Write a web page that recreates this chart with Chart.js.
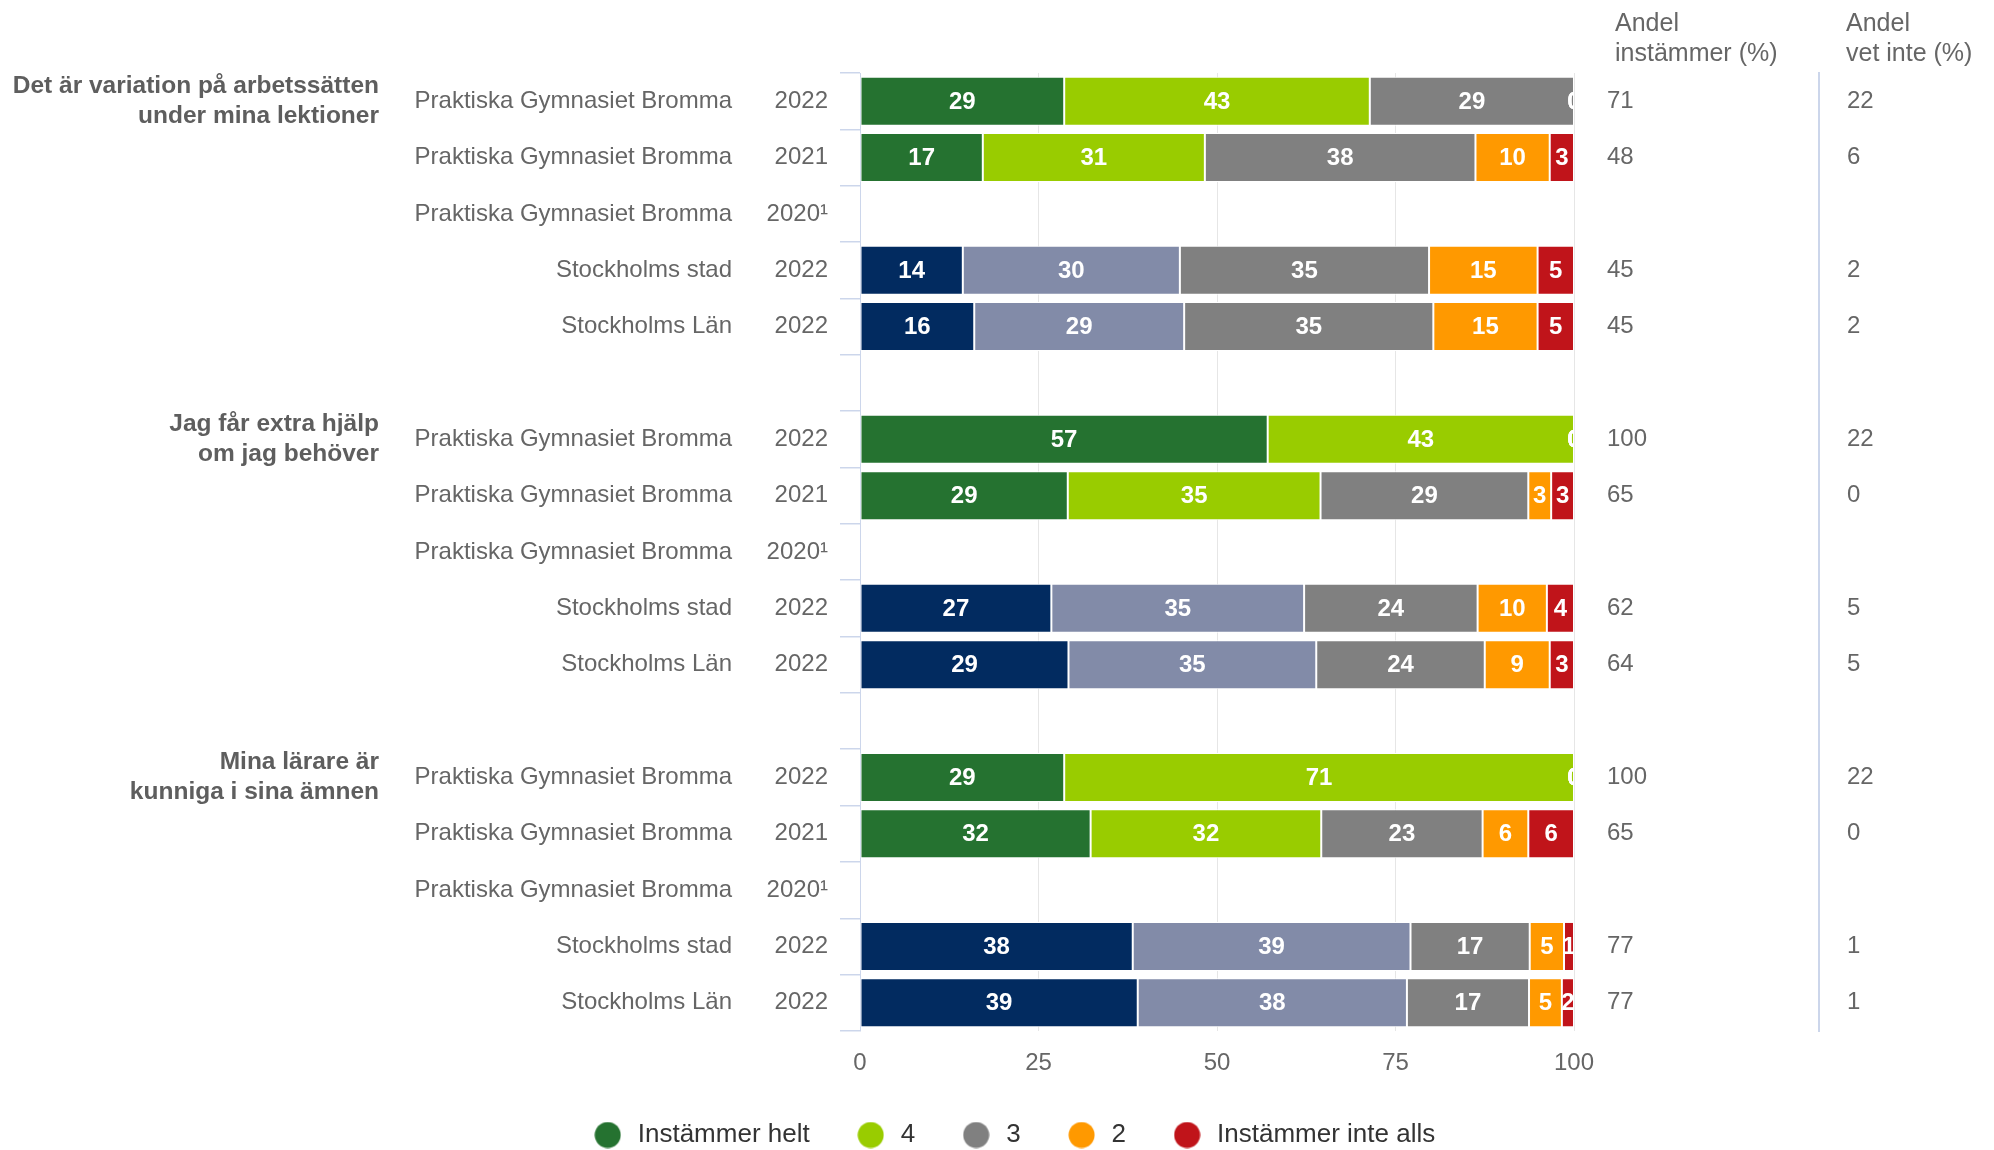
<!DOCTYPE html>
<html>
<head>
<meta charset="utf-8">
<script src="https://cdn.jsdelivr.net/npm/chart.js@4.4.1/dist/chart.umd.min.js"></script>
<style>
  html, body { margin: 0; padding: 0; background: #ffffff; }
  #wrap { width: 1994px; height: 1150px; }
</style>
</head>
<body>
<div id="wrap"><canvas id="c" width="1994" height="1150"></canvas></div>
<script>
// ---------- data ----------
const groupTitles = [
  ['Det är variation på arbetssätten', 'under mina lektioner'], '', '', '', '', '',
  ['Jag får extra hjälp', 'om jag behöver'], '', '', '', '', '',
  ['Mina lärare är', 'kunniga i sina ämnen'], '', '', '', ''
];
const schools = [
  'Praktiska Gymnasiet Bromma', 'Praktiska Gymnasiet Bromma', 'Praktiska Gymnasiet Bromma', 'Stockholms stad', 'Stockholms Län', '',
  'Praktiska Gymnasiet Bromma', 'Praktiska Gymnasiet Bromma', 'Praktiska Gymnasiet Bromma', 'Stockholms stad', 'Stockholms Län', '',
  'Praktiska Gymnasiet Bromma', 'Praktiska Gymnasiet Bromma', 'Praktiska Gymnasiet Bromma', 'Stockholms stad', 'Stockholms Län'
];
const years = [
  '2022', '2021', '2020\u00B9', '2022', '2022', '',
  '2022', '2021', '2020\u00B9', '2022', '2022', '',
  '2022', '2021', '2020\u00B9', '2022', '2022'
];
// row kind: 's' = school, 'r' = region (Stockholm), '' = empty
const rowKind = ['s','s','s','r','r','', 's','s','s','r','r','', 's','s','s','r','r'];

const seriesNames = ['Instämmer helt', '4', '3', '2', 'Instämmer inte alls'];
const instammerHelt = [28.6, 17.2, null, 14.4, 16.0, null, 57.1, 29.1, null, 26.8, 29.2, null, 28.6, 32.3, null, 38.2, 38.9];
const fyra          = [42.8, 31.1, null, 30.4, 29.4, null, 42.9, 35.4, null, 35.4, 34.7, null, 71.4, 32.3, null, 38.9, 37.7];
const tre           = [28.6, 37.9, null, 34.9, 34.9, null, 0,    29.1, null, 24.3, 23.6, null, 0,    22.6, null, 16.7, 17.1];
const tva           = [0,    10.4, null, 15.2, 14.6, null, 0,    3.2,  null, 9.7,  9.1,  null, 0,    6.4,  null, 4.8,  4.6];
const inteAlls      = [0,    3.4,  null, 5.1,  5.1,  null, 0,    3.2,  null, 3.8,  3.4,  null, 0,    6.4,  null, 1.4,  1.7];

const andelInstammer = ['71', '48', '', '45', '45', '', '100', '65', '', '62', '64', '', '100', '65', '', '77', '77'];
const andelVetInte   = ['22', '6', '', '2', '2', '', '22', '0', '', '5', '5', '', '22', '0', '', '1', '1'];
const headerInstammer = ['Andel', 'instämmer (%)'];
const headerVetInte   = ['Andel', 'vet inte (%)'];

// ---------- styles ----------
const COLORS = {
  green: '#257230', lime: '#99cc00', gray: '#808080', orange: '#ff9900', red: '#c0141a',
  navy: '#022b60', slate: '#828ba8'
};
const FONT = "'Liberation Sans', Arial, Helvetica, sans-serif";
Chart.defaults.font.family = FONT;
Chart.defaults.font.size = 24;
Chart.defaults.color = '#666666';

function perRow(schoolColor, regionColor) {
  return rowKind.map(k => (k === 'r' ? regionColor : schoolColor));
}
const seriesData = [instammerHelt, fyra, tre, tva, inteAlls];
const seriesColors = [
  perRow(COLORS.green, COLORS.navy),
  perRow(COLORS.lime, COLORS.slate),
  COLORS.gray, COLORS.orange, COLORS.red
];
const legendColors = [COLORS.green, COLORS.lime, COLORS.gray, COLORS.orange, COLORS.red];

function dot(color) {
  const c = document.createElement('canvas');
  c.width = 27; c.height = 27;
  const g = c.getContext('2d');
  g.fillStyle = color;
  g.beginPath();
  g.arc(13.5, 13.5, 13, 0, Math.PI * 2);
  g.fill();
  return c;
}

// ---------- plugins ----------
const barLabels = {
  id: 'barLabels',
  afterDatasetsDraw(chart) {
    const ctx = chart.ctx, a = chart.chartArea;
    ctx.save();
    ctx.beginPath();
    ctx.rect(a.left, a.top, a.right - a.left, a.bottom - a.top);
    ctx.clip();
    ctx.font = 'bold 24px ' + FONT;
    ctx.fillStyle = '#ffffff';
    ctx.textAlign = 'center';
    ctx.textBaseline = 'middle';
    chart.data.datasets.forEach((ds, i) => {
      const meta = chart.getDatasetMeta(i);
      meta.data.forEach((bar, j) => {
        const v = ds.data[j];
        if (v === null || v === undefined) return;
        const p = bar.getProps(['x', 'y', 'base'], true);
        ctx.fillText(String(Math.round(v)), (p.x + p.base) / 2, p.y + 1);
      });
    });
    ctx.restore();
  }
};

const headers = {
  id: 'headers',
  afterDraw(chart) {
    const ctx = chart.ctx;
    ctx.save();
    ctx.font = '25px ' + FONT;
    ctx.fillStyle = '#666666';
    ctx.textAlign = 'left';
    ctx.textBaseline = 'alphabetic';
    const a = chart.scales.yIn.left + 41;
    const b = chart.scales.yVet.left + 27;
    ctx.fillText(headerInstammer[0], a, 31);
    ctx.fillText(headerInstammer[1], a, 61);
    ctx.fillText(headerVetInte[0], b, 31);
    ctx.fillText(headerVetInte[1], b, 61);
    ctx.restore();
  }
};

const legendShift = {
  id: 'legendShift',
  afterLayout(chart) {
    const l = chart.legend;
    if (l) { l.left += 16; l.right += 16; }
  }
};

// ---------- chart ----------
new Chart(document.getElementById('c'), {
  type: 'bar',
  data: {
    labels: years,
    datasets: seriesNames.map((name, i) => ({
      label: name,
      data: seriesData[i],
      backgroundColor: seriesColors[i],
      borderColor: '#ffffff',
      borderWidth: 1,
      borderSkipped: false,
      barPercentage: 0.87,
      categoryPercentage: 1,
      stack: 's',
      xAxisID: 'x',
      yAxisID: 'y'
    }))
  },
  options: {
    indexAxis: 'y',
    responsive: false,
    animation: false,
    events: [],
    devicePixelRatio: 1,
    layout: { padding: { top: 73, bottom: -8, left: 0, right: 0 } },
    scales: {
      x: {
        type: 'linear', position: 'bottom', stacked: true, min: 0, max: 100,
        ticks: { stepSize: 25, color: '#666666', font: { size: 24 }, padding: 18 },
        grid: { color: '#e6e6e6', lineWidth: 1, drawTicks: false },
        border: { display: false },
        afterFit(s) { s.height = 47; }
      },
      y: {
        type: 'category', axis: 'y', position: 'left', weight: 0, stacked: true, offset: true,
        labels: years,
        ticks: { autoSkip: false, color: '#666666', font: { size: 24 }, padding: 12 },
        grid: { display: true, offset: true, drawOnChartArea: false, drawTicks: true, tickLength: 20, color: '#ccd6eb', lineWidth: 1.5 },
        border: { display: true, color: '#ccd6eb', width: 1 },
        afterFit(s) { s.width = 110; }
      },
      yName: {
        type: 'category', axis: 'y', position: 'left', weight: 1, offset: true,
        labels: schools,
        ticks: { autoSkip: false, color: '#666666', font: { size: 24 }, padding: 18 },
        grid: { display: false, drawTicks: false, offset: true },
        border: { display: false },
        afterFit(s) { s.width = 350; }
      },
      yGroup: {
        type: 'category', axis: 'y', position: 'left', weight: 2, offset: true,
        labels: groupTitles,
        ticks: { autoSkip: false, color: '#5e5e5e', font: { size: 24.5, weight: 'bold', lineHeight: 1.22 }, padding: 21 },
        grid: { display: false, drawTicks: false, offset: true },
        border: { display: false },
        afterFit(s) { s.width = 400; }
      },
      yIn: {
        type: 'category', axis: 'y', position: 'right', weight: 0, offset: true,
        labels: andelInstammer,
        ticks: { autoSkip: false, color: '#666666', font: { size: 24 }, padding: 33 },
        grid: { display: false, drawTicks: false, offset: true },
        border: { display: false },
        afterFit(s) { s.width = 245; }
      },
      yVet: {
        type: 'category', axis: 'y', position: 'right', weight: 1, offset: true,
        labels: andelVetInte,
        ticks: { autoSkip: false, color: '#666666', font: { size: 24 }, padding: 28 },
        grid: { display: true, offset: true, drawOnChartArea: false, drawTicks: false, color: 'rgba(0,0,0,0)' },
        border: { display: true, color: '#ccd6eb', width: 2 },
        afterFit(s) { s.width = 175; }
      }
    },
    plugins: {
      tooltip: { enabled: false },
      title: { display: false },
      legend: {
        display: true,
        position: 'bottom',
        align: 'center',
        labels: {
          usePointStyle: true,
          pointStyleWidth: 34,
          padding: 44,
          color: '#333333',
          font: { size: 26 },
          generateLabels() {
            return seriesNames.map((n, i) => ({
              text: n,
              fillStyle: legendColors[i],
              strokeStyle: legendColors[i],
              lineWidth: 0,
              pointStyle: dot(legendColors[i]),
              fontColor: '#333333',
              hidden: false,
              datasetIndex: i
            }));
          }
        }
      }
    }
  },
  plugins: [barLabels, headers, legendShift]
});
</script>
</body>
</html>
